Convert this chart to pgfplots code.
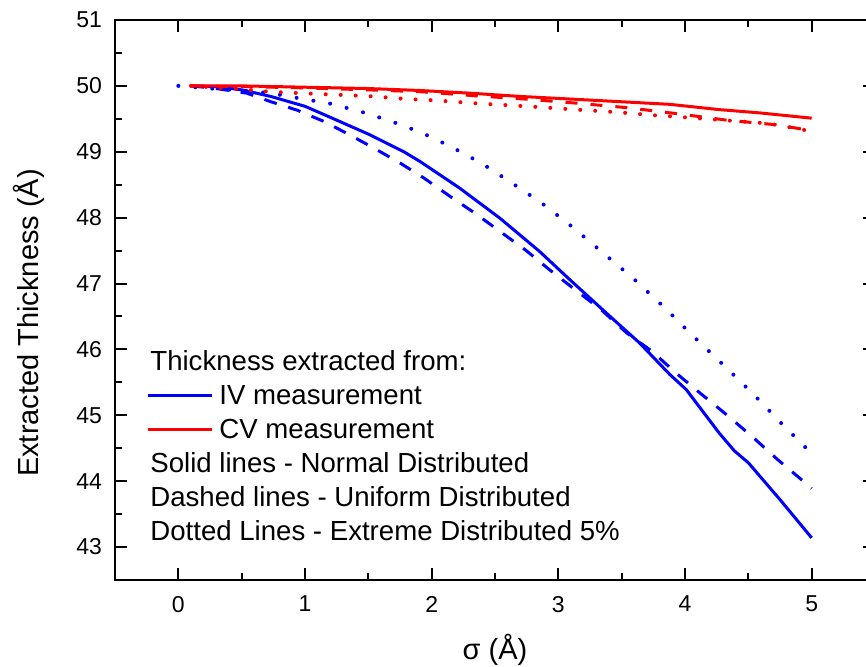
\documentclass[border=0pt]{standalone}
\usepackage{fontspec}
\setmainfont{Liberation Sans}
\usepackage{pgfplots}
\pgfplotsset{compat=1.18}
\definecolor{myblue}{RGB}{0,0,255}
\definecolor{myred}{RGB}{255,0,0}
\begin{document}
\begin{tikzpicture}
\begin{axis}[
  name=ax,
  scale only axis,
  width=380pt, height=280pt,
  xmin=-0.5, xmax=5.5, ymin=42.5, ymax=51,
  xtick={0,1,2,3,4,5}, ytick={43,44,45,46,47,48,49,50,51},
  minor x tick num=1, minor y tick num=1,
  tick align=inside,
  major tick length=6pt, minor tick length=3.5pt,
  axis line style={line width=1pt},
  every tick/.style={black, line width=1pt},
  /pgf/number format/assume math mode=true,
  ticklabel style={font=\fontsize{11.5}{13}\selectfont},
  xticklabel style={yshift=-4.5pt},
  yticklabel style={xshift=-3pt},
  xlabel={σ (Å)},
  ylabel={Extracted Thickness (Å)},
  label style={font=\fontsize{14.5}{17}\selectfont},
  xlabel style={at={(axis description cs:0.5,0)}, anchor=center, yshift=-35pt},
  ylabel style={at={(axis description cs:-0.113,0.459)}, anchor=center},
  clip=false,
]
% IV normal (solid)
\addplot[myblue, line width=1.5pt, line join=round] coordinates {
(0.1,50.0) (0.3,49.99) (0.5,49.94) (0.73,49.84) (1.0,49.69) (1.12,49.59)
(1.51,49.26) (1.78,49.00) (1.91,48.85) (2.22,48.45) (2.54,47.99) (2.85,47.49)
(3.09,47.06) (3.38,46.55) (3.64,46.10) (3.88,45.62) (4.01,45.39) (4.27,44.73)
(4.39,44.46) (4.50,44.28) (4.75,43.72) (5.0,43.14)};
% IV uniform (dashed)
\addplot[myblue, line width=1.5pt, dash pattern=on 6.5pt off 6pt] coordinates {
(0.1,50.0) (0.3,49.96) (0.54,49.89) (0.73,49.76) (0.94,49.63) (1.15,49.46)
(1.33,49.28) (1.54,49.06) (1.75,48.83) (1.94,48.60) (2.14,48.33) (2.34,48.07)
(2.54,47.79) (2.74,47.51) (2.93,47.21) (3.13,46.91) (3.34,46.60) (3.54,46.25)
(3.74,45.97) (3.93,45.64) (4.13,45.32) (4.34,44.99) (4.54,44.66) (4.73,44.33)
(4.94,43.99) (5.0,43.89)};
% IV extreme (dotted)
\addplot[myblue, line width=2pt, line cap=round, dash pattern=on 0pt off 8.5pt] coordinates {
(0,50.0) (0.13,49.98) (0.25,49.96) (0.5,49.93) (0.73,49.89) (0.96,49.81)
(1.2,49.73) (1.44,49.61) (1.67,49.47) (1.92,49.29) (2.15,49.08) (2.39,48.83)
(2.63,48.53) (2.87,48.22) (3.11,47.86) (3.35,47.47) (3.59,47.08) (3.83,46.65)
(4.06,46.21) (4.30,45.77) (4.54,45.32) (4.77,44.86) (5.0,44.42)};
% CV normal (solid)
\addplot[myred, line width=1.5pt] coordinates {
(0.1,50.0) (0.5,50.0) (1.0,49.98) (1.5,49.96) (1.91,49.93) (2.3,49.89)
(2.70,49.84) (3.1,49.80) (3.49,49.76) (3.88,49.72) (4.27,49.64) (4.59,49.59)
(5.0,49.51)};
% CV uniform (dashed)
\addplot[myred, line width=1.5pt, dash pattern=on 6pt off 6.5pt] coordinates {
(0.1,50.0) (0.5,49.99) (1.0,49.97) (1.5,49.94) (1.93,49.91) (2.34,49.85)
(2.74,49.80) (3.13,49.74) (3.54,49.67) (3.93,49.58) (4.33,49.48) (4.72,49.41)
(5.0,49.32)};
% CV extreme (dotted)
\addplot[myred, line width=2pt, line cap=round, dash pattern=on 0pt off 7.5pt] coordinates {
(0.1,50.0) (0.49,49.95) (0.73,49.91) (0.96,49.89) (1.32,49.86) (1.55,49.84)
(1.8,49.80) (2.03,49.78) (2.39,49.73) (2.75,49.69) (2.99,49.66) (3.22,49.63)
(3.47,49.60) (3.71,49.56) (3.95,49.53) (4.30,49.48) (4.66,49.43) (5.0,49.31)};
\end{axis}
% legend
\begin{scope}[every node/.style={anchor=base west, inner sep=0pt, font=\fontsize{13.8}{16}\selectfont}]
\node at ([shift={(17.5pt,105pt)}]ax.south west) {Thickness extracted from:};
\draw[myblue, line width=1.5pt] ([shift={(16.5pt,92.5pt)}]ax.south west) -- ([shift={(48.5pt,92.5pt)}]ax.south west);
\node at ([shift={(52pt,88pt)}]ax.south west) {IV measurement};
\draw[myred, line width=1.5pt] ([shift={(16.5pt,75.5pt)}]ax.south west) -- ([shift={(48.5pt,75.5pt)}]ax.south west);
\node at ([shift={(52pt,71pt)}]ax.south west) {CV measurement};
\node at ([shift={(17.5pt,54pt)}]ax.south west) {Solid lines - Normal Distributed};
\node at ([shift={(17.5pt,37pt)}]ax.south west) {Dashed lines - Uniform Distributed};
\node at ([shift={(17.5pt,20pt)}]ax.south west) {Dotted Lines - Extreme Distributed 5\%};
\end{scope}
\pgfresetboundingbox
\path ([shift={(-57.5pt,-43pt)}]ax.south west) rectangle ([shift={(375.5pt,290pt)}]ax.south west);
\end{tikzpicture}
\end{document}
